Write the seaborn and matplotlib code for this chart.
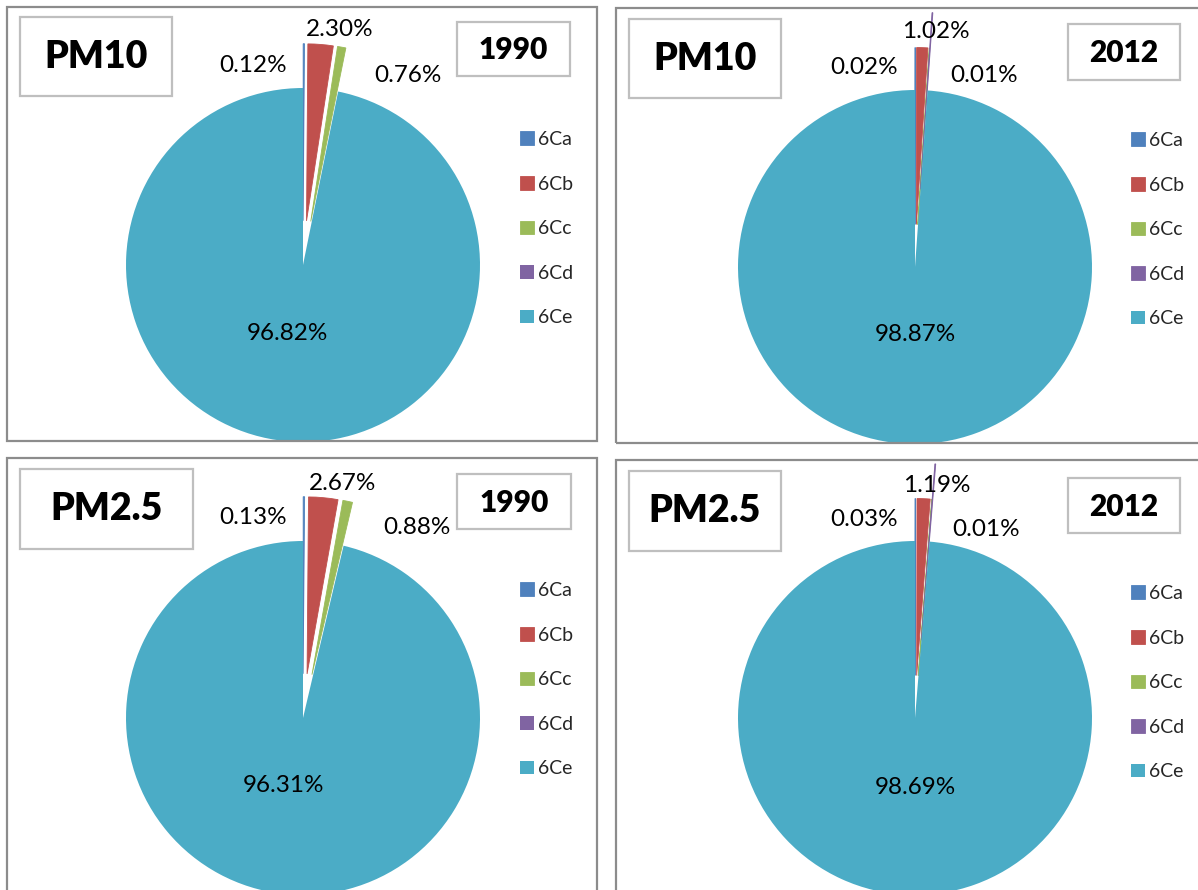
import matplotlib
matplotlib.use("Agg")
import matplotlib.pyplot as plt
from matplotlib.patches import Rectangle
import seaborn as sns

# data
categories = ['6Ca', '6Cb', '6Cc', '6Cd', '6Ce']
pm10_1990 = [0.12, 2.30, 0.76, 0.00, 96.82]
pm10_2012 = [0.02, 1.02, 0.01, 0.08, 98.87]
pm25_1990 = [0.13, 2.67, 0.88, 0.00, 96.31]
pm25_2012 = [0.03, 1.19, 0.01, 0.08, 98.69]
pollutants = ['PM10', 'PM10', 'PM2.5', 'PM2.5']
years = ['1990', '2012', '1990', '2012']
labelled = ['6Ca', '6Cb', '6Cc', '6Ce']

colors = sns.color_palette(['#4F81BD', '#C0504D', '#9BBB59', '#8064A2', '#4BACC6'])

sns.set_theme(style='white')
plt.rcParams['font.family'] = ['Lato', 'DejaVu Sans']

W, H = 1198, 890
R = 177  # pie radius in pixels

fig = plt.figure(figsize=(W / 100, H / 100), dpi=100)
fig.patch.set_facecolor('white')


def fx(x):
    return x / W


def fy(y):
    return 1 - y / H


def caixa(x0, y0, x1, y1, cor, lw):
    fig.patches.append(Rectangle((fx(x0), fy(y1)), fx(x1) - fx(x0), fy(y0) - fy(y1),
                                 transform=fig.transFigure, fill=False,
                                 edgecolor=cor, linewidth=lw, clip_on=False))


# layout of each panel (pixel positions in the reference)
paineis = [
    dict(box=(7, 7, 597, 441), centro=(303, 265), titulo=(20, 17, 172, 96),
         ano=(457, 22, 570, 76), leg=(520, 139),
         rotulos=[(253, 65), (340, 30), (408, 76), (287, 333)],
         explode=[0.25, 0.25, 0.25, 0.25, 0]),
    dict(box=(616, 8, 1215, 443), centro=(915, 267), titulo=(629, 19, 781, 98),
         ano=(1068, 24, 1180, 80), leg=(1131, 140),
         rotulos=[(864, 67), (936, 31), (984, 76), (915, 335)],
         explode=[0.24, 0.24, 0.24, 0.44, 0]),
    dict(box=(7, 458, 597, 905), centro=(303, 718), titulo=(20, 469, 193, 549),
         ano=(457, 474, 571, 529), leg=(520, 590),
         rotulos=[(253, 518), (343, 483), (417, 527), (283, 785)],
         explode=[0.25, 0.25, 0.25, 0.25, 0]),
    dict(box=(616, 460, 1215, 905), centro=(915, 718), titulo=(629, 471, 781, 551),
         ano=(1068, 478, 1180, 533), leg=(1131, 593),
         rotulos=[(864, 520), (937, 485), (986, 529), (915, 787)],
         explode=[0.24, 0.24, 0.24, 0.44, 0]),
]

series = [pm10_1990, pm10_2012, pm25_1990, pm25_2012]

for valores, pol, ano, p in zip(series, pollutants, years, paineis):
    caixa(*p['box'], '#8c8c8c', 1.6)
    caixa(*p['titulo'], '#bfbfbf', 1.6)
    caixa(*p['ano'], '#bfbfbf', 1.6)

    tx0, ty0, tx1, ty1 = p['titulo']
    fig.text(fx((tx0 + tx1) / 2), fy((ty0 + ty1) / 2), pol, ha='center', va='center',
             fontsize=27, fontweight='heavy', color='black')
    ax0, ay0, ax1, ay1 = p['ano']
    fig.text(fx((ax0 + ax1) / 2), fy((ay0 + ay1) / 2 + 1), ano, ha='center', va='center',
             fontsize=21.5, fontweight='heavy', color='black')

    # pie axes: square around the pie centre, radius 1 -> R pixels
    cx, cy = p['centro']
    L = 1.6 * R
    ax = fig.add_axes([fx(cx - L), fy(cy + L), 2 * L / W, 2 * L / H])
    ax.patch.set_alpha(0)

    wedges, _ = ax.pie(valores, colors=colors, startangle=90, counterclock=False,
                       explode=p['explode'], radius=1, frame=True,
                       wedgeprops=dict(linewidth=0))
    ax.set_xlim(-L / R, L / R)
    ax.set_ylim(-L / R, L / R)
    ax.axis('off')
    for w, v in zip(wedges[:-1], valores[:-1]):
        if v > 0:
            w.set_edgecolor(w.get_facecolor())
            w.set_linewidth(0.6)

    # percentage labels
    for cat, (lx, ly) in zip(labelled, p['rotulos']):
        v = valores[categories.index(cat)]
        fig.text(fx(lx), fy(ly), f'{v:.2f}%', ha='center', va='center',
                 fontsize=17.5, color='black')

    lgx, lgy = p['leg']
    ax.legend(wedges, categories, loc='upper left',
              bbox_to_anchor=(fx(lgx), fy(lgy - 8)), bbox_transform=fig.transFigure,
              frameon=False, fontsize=14, borderpad=0, borderaxespad=0,
              handlelength=0.7, handleheight=0.7, handletextpad=0.25,
              labelspacing=1.42)

fig.savefig('out.png', dpi=100)
plt.close(fig)
